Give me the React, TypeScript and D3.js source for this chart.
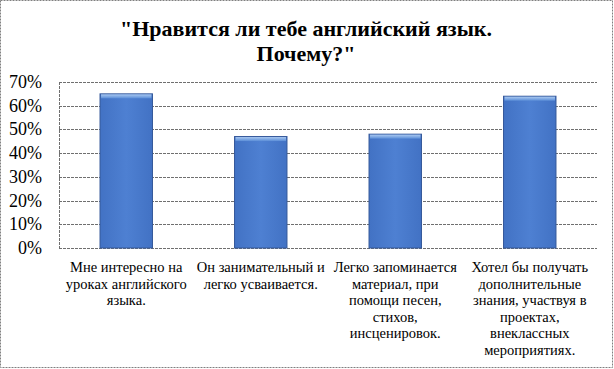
import React from "react";
import * as d3 from "d3";

// categories (already wrapped the way the reference breaks them)
const categories: string[][] = [
  ["Мне интересно на", "уроках английского", "языка."],
  ["Он занимательный  и", "легко усваивается."],
  ["Легко запоминается", "материал, при", "помощи песен,", "стихов,", "инсценировок."],
  ["Хотел бы получать", "дополнительные", "знания, участвуя в", "проектах,", "внеклассных", "мероприятиях."],
];
const values = [0.65, 0.47, 0.48, 0.64];
const yTicks = [0, 0.1, 0.2, 0.3, 0.4, 0.5, 0.6, 0.7];
const titleLines = ["\"Нравится ли тебе английский язык.", "Почему?\""];

const width = 614;
const height = 369;
const margin = { top: 82, right: 17, bottom: 121, left: 59 };
const font = "'Liberation Serif'";

const App: React.FC = () => {
  if (typeof document !== "undefined") document.body.style.margin = "0";

  const x = d3
    .scaleBand<number>()
    .domain(values.map((_d, i) => i))
    .range([margin.left, width - margin.right])
    .paddingInner(0.61)
    .paddingOuter(0.305);

  const y = d3
    .scaleLinear()
    .domain([0, 0.7])
    .range([height - margin.bottom, margin.top]);

  const fmt = d3.format(".0%");

  return (
    <svg width={width} height={height} style={{ display: "block" }}>
      <defs>
        <linearGradient id="barGrad" x1="0" x2="1" y1="0" y2="0">
          <stop offset="0%" stopColor="#4272c4" />
          <stop offset="50%" stopColor="#4e80d2" />
          <stop offset="100%" stopColor="#4272c4" />
        </linearGradient>
        <linearGradient id="topGrad" x1="0" x2="0" y1="0" y2="1">
          <stop offset="0%" stopColor="#a9c8f0" />
          <stop offset="100%" stopColor="#5b8ed8" />
        </linearGradient>
      </defs>

      {/* outer frame */}
      <rect
        x={0.5}
        y={0.5}
        width={width - 2}
        height={height - 2}
        fill="white"
        stroke="#808080"
        strokeDasharray="2,1"
      />

      {/* title */}
      {titleLines.map((t, i) => (
        <text
          key={t}
          x={306}
          y={36 + i * 25}
          textAnchor="middle"
          fontWeight="bold"
          fontSize={22}
          style={{ fontFamily: font }}
        >
          {t}
        </text>
      ))}

      {/* gridlines */}
      {yTicks.map((t) => (
        <line
          key={t}
          x1={margin.left}
          x2={width - margin.right}
          y1={Math.round(y(t)) + 0.5}
          y2={Math.round(y(t)) + 0.5}
          stroke="#6f6f6f"
          strokeDasharray="3,1"
        />
      ))}
      <line
        x1={margin.left + 0.5}
        x2={margin.left + 0.5}
        y1={y(0.7)}
        y2={y(0)}
        stroke="#6f6f6f"
        strokeDasharray="3,1"
      />

      {/* y tick labels */}
      {yTicks.map((t) => (
        <text key={t} x={42} y={y(t) + 6} textAnchor="end" fontSize={18} style={{ fontFamily: font }}>
          {fmt(t)}
        </text>
      ))}

      {/* bars */}
      {values.map((v, i) => (
        <g key={i}>
          <rect
            x={x(i)!}
            y={y(v)}
            width={x.bandwidth()}
            height={y(0) - y(v)}
            fill="url(#barGrad)"
            stroke="#35589a"
          />
          <rect x={x(i)! + 1} y={y(v) + 0.5} width={x.bandwidth() - 2} height={4} fill="url(#topGrad)" />
        </g>
      ))}

      {/* category labels */}
      {categories.map((lines, i) => (
        <g key={i} transform={`translate(${x(i)! + x.bandwidth() / 2},0)`}>
          {lines.map((l, j) => (
            <text key={j} x={0} y={272 + j * 16.5} textAnchor="middle" fontSize={14.5} style={{ fontFamily: font }}>
              {l}
            </text>
          ))}
        </g>
      ))}
    </svg>
  );
};

export default App;
